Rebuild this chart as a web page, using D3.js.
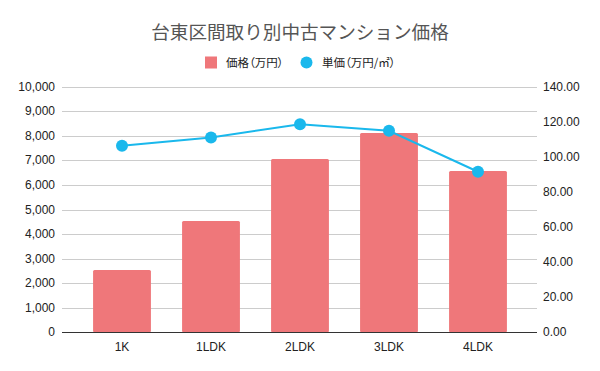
<!DOCTYPE html>
<html>
<head>
<meta charset="utf-8">
<script src="https://cdn.jsdelivr.net/npm/d3@7"></script>
<style>
	body { margin: 0; background: #fff; }
	text { font-family: "Noto Sans CJK JP", "Liberation Sans", Arial, sans-serif; }
	.legend-text { font-feature-settings: "palt"; }
</style>
</head>
<body>
<div id="chart"></div>
<script>

var categories = ["1K", "1LDK", "2LDK", "3LDK", "4LDK"];
var priceValues = [2540, 4530, 7060, 8110, 6570];      // 価格（万円）
var unitValues = [106.4, 111.1, 118.6, 114.9, 91.5];   // 単価（万円/㎡）
var leftTicks = [0, 1000, 2000, 3000, 4000, 5000, 6000, 7000, 8000, 9000, 10000];
var rightTicks = [0, 20, 40, 60, 80, 100, 120, 140];

var width = 600;
var height = 371;

var barColor = "#ef777a";
var lineColor = "#1ab8ec";

var svg = d3.select("#chart").append("svg")
	.attr("width", width)
	.attr("height", height);

var plotLeft = 62, plotRight = 537, plotTop = 86.7, plotBottom = 332.3;

var x = d3.scaleBand()
	.domain(categories)
	.range([77.5, 522.5])
	.paddingInner(0.35)
	.paddingOuter(0.175);

var yLeft = d3.scaleLinear().domain([0, 10000]).range([plotBottom, plotTop]);
var yRight = d3.scaleLinear().domain([0, 140]).range([plotBottom, plotTop]);

// gridlines
svg.append("g").selectAll("line")
	.data(leftTicks.slice(1))
	.enter().append("line")
	.attr("x1", plotLeft).attr("x2", plotRight)
	.attr("y1", function(d) { return Math.round(yLeft(d)) + 0.5; })
	.attr("y2", function(d) { return Math.round(yLeft(d)) + 0.5; })
	.attr("stroke", "#cccccc")
	.attr("stroke-width", 1);

// bars
svg.append("g").selectAll("rect")
	.data(priceValues)
	.enter().append("rect")
	.attr("x", function(d, i) { return x(categories[i]); })
	.attr("y", function(d) { return yLeft(d); })
	.attr("width", x.bandwidth())
	.attr("height", function(d) { return plotBottom - yLeft(d); })
	.attr("rx", 1.5)
	.attr("fill", barColor);

// baseline
svg.append("line")
	.attr("x1", plotLeft).attr("x2", plotRight)
	.attr("y1", Math.round(plotBottom) + 0.5).attr("y2", Math.round(plotBottom) + 0.5)
	.attr("stroke", "#333333")
	.attr("stroke-width", 1);

// line series
var line = d3.line()
	.x(function(d, i) { return x(categories[i]) + x.bandwidth() / 2; })
	.y(function(d) { return yRight(d); });

svg.append("path")
	.datum(unitValues)
	.attr("d", line)
	.attr("fill", "none")
	.attr("stroke", lineColor)
	.attr("stroke-width", 2);

svg.append("g").selectAll("circle")
	.data(unitValues)
	.enter().append("circle")
	.attr("cx", function(d, i) { return x(categories[i]) + x.bandwidth() / 2; })
	.attr("cy", function(d) { return yRight(d); })
	.attr("r", 6)
	.attr("fill", lineColor);

// left axis labels
var fmtLeft = d3.format(",");
svg.append("g").selectAll("text")
	.data(leftTicks)
	.enter().append("text")
	.attr("x", 55)
	.attr("y", function(d) { return yLeft(d) + 4; })
	.attr("text-anchor", "end")
	.style("font-family", "'Liberation Sans', Arial, sans-serif")
	.style("font-size", "12px")
	.attr("fill", "#222")
	.text(function(d) { return fmtLeft(d); });

// right axis labels
var fmtRight = d3.format(".2f");
svg.append("g").selectAll("text")
	.data(rightTicks)
	.enter().append("text")
	.attr("x", 543)
	.attr("y", function(d) { return yRight(d) + 4; })
	.attr("text-anchor", "start")
	.style("font-family", "'Liberation Sans', Arial, sans-serif")
	.style("font-size", "12px")
	.attr("fill", "#222")
	.text(function(d) { return fmtRight(d); });

// category labels
svg.append("g").selectAll("text")
	.data(categories)
	.enter().append("text")
	.attr("x", function(d) { return x(d) + x.bandwidth() / 2; })
	.attr("y", 351)
	.attr("text-anchor", "middle")
	.style("font-family", "'Liberation Sans', Arial, sans-serif")
	.style("font-size", "12px")
	.attr("fill", "#222")
	.text(function(d) { return d; });

// title
svg.append("text")
	.attr("x", 300)
	.attr("y", 39)
	.attr("text-anchor", "middle")
	.style("font-size", "18.6px")
	.attr("fill", "#555")
	.text("台東区間取り別中古マンション価格");

// legend
var legend = svg.append("g");
legend.append("rect")
	.attr("x", 205).attr("y", 56.5)
	.attr("width", 12).attr("height", 12)
	.attr("fill", barColor);
legend.append("text")
	.attr("class", "legend-text")
	.attr("x", 226).attr("y", 66.5)
	.style("font-size", "11.5px")
	.attr("fill", "#222")
	.text("価格（万円）");
legend.append("circle")
	.attr("cx", 306.5).attr("cy", 62.5)
	.attr("r", 6)
	.attr("fill", lineColor);
legend.append("text")
	.attr("class", "legend-text")
	.attr("x", 322).attr("y", 66.5)
	.style("font-size", "11.5px")
	.attr("fill", "#222")
	.text("単価（万円/㎡）");

</script>
</body>
</html>
